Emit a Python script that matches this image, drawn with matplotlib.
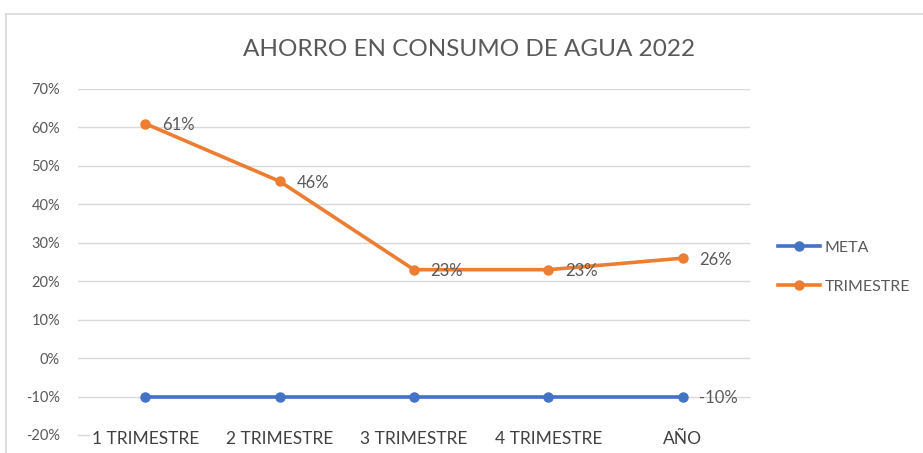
import matplotlib
matplotlib.use("Agg")
import matplotlib.pyplot as plt
from matplotlib.lines import Line2D
from matplotlib.ticker import FuncFormatter

categories = ["1 TRIMESTRE", "2 TRIMESTRE", "3 TRIMESTRE", "4 TRIMESTRE", "AÑO"]
meta = [-0.10, -0.10, -0.10, -0.10, -0.10]
trimestre = [0.61, 0.46, 0.23, 0.23, 0.26]
title = "AHORRO EN CONSUMO DE AGUA 2022"

ORANGE = "#ED7D31"
BLUE = "#4472C4"
GRAY = "#595959"
GRID = "#D9D9D9"

plt.rcParams['font.family'] = ['Lato', 'DejaVu Sans']

fig = plt.figure(figsize=(9.23, 4.53), dpi=100)
W, H = 923, 453
ax = fig.add_axes([78 / W, 1 - 435 / H, (750 - 78) / W, (435 - 89) / H])

# chart border
fig.add_artist(Line2D([6 / W, 1], [1 - 14 / H, 1 - 14 / H], color=GRID, lw=1.2, transform=fig.transFigure))
fig.add_artist(Line2D([6 / W, 6 / W], [0, 1 - 14 / H], color=GRID, lw=1.2, transform=fig.transFigure))

x = list(range(len(categories)))
ax.plot(x, meta, color=BLUE, lw=2.6, marker='o', ms=6.5, label="META", zorder=3)
ax.plot(x, trimestre, color=ORANGE, lw=2.6, marker='o', ms=6.5, label="TRIMESTRE", zorder=3)

for xi, v in zip(x, trimestre):
    ax.annotate(f"{round(v * 100)}%", (xi, v), xytext=(12, -1), textcoords='offset points',
                va='center', ha='left', color=GRAY, fontsize=12, zorder=4)
ax.annotate(f"{round(meta[-1] * 100)}%", (x[-1], meta[-1]), xytext=(12, -1), textcoords='offset points',
            va='center', ha='left', color=GRAY, fontsize=12, zorder=4)

ax.set_xlim(-0.5, len(categories) - 0.5)
ax.set_ylim(-0.2, 0.7)
ax.set_yticks([v / 100 for v in range(-20, 71, 10)])
ax.yaxis.set_major_formatter(FuncFormatter(lambda v, p: f"{round(v * 100)}%"))
for v in range(-10, 71, 10):
    ax.axhline(v / 100, color=GRID, lw=1, zorder=0)
ax.plot([-0.5, -0.42], [-0.2, -0.2], color=GRID, lw=1, zorder=0, clip_on=False)
for s in ax.spines.values():
    s.set_visible(False)
ax.set_xticks(x)
ax.set_xticklabels(categories)
ax.tick_params(axis='x', length=0, pad=-3, labelsize=12.5, labelcolor="#404040")
ax.tick_params(axis='y', length=0, pad=13, labelsize=10.5, labelcolor=GRAY)

fig.text(469 / W, 1 - 50 / H, title, ha='center', va='center', fontsize=17.5, color=GRAY)

ax.legend(loc='upper left', bbox_to_anchor=(772 / W, 1 - 234 / H), bbox_transform=fig.transFigure,
          frameon=False, fontsize=11.5, labelcolor=GRAY, handlelength=2.6, handletextpad=0.3,
          labelspacing=1.55, borderaxespad=0)

fig.savefig("out.png", dpi=100)
